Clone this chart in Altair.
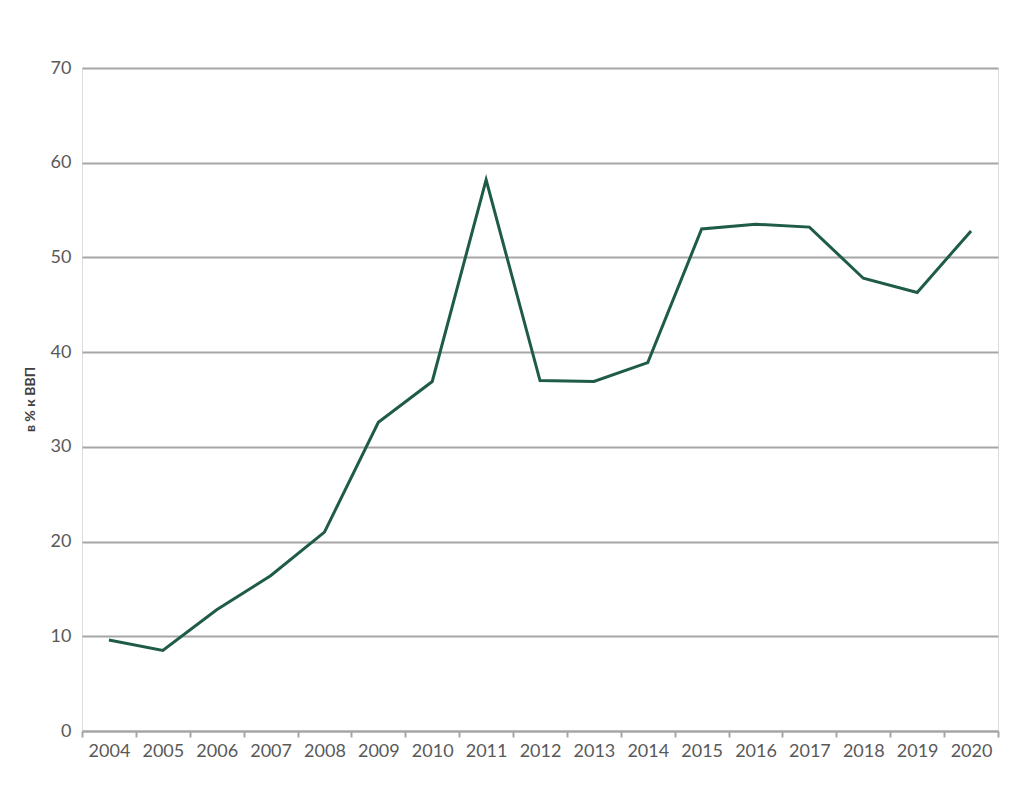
import altair as alt
import pandas as pd

years = ["2004", "2005", "2006", "2007", "2008", "2009", "2010", "2011", "2012",
         "2013", "2014", "2015", "2016", "2017", "2018", "2019", "2020"]
values = [9.6, 8.5, 12.8, 16.4, 21.0, 32.6, 36.9, 58.2, 37.0,
          36.9, 38.9, 53.0, 53.5, 53.2, 47.8, 46.3, 52.8]

df = pd.DataFrame({"year": years, "value": values})

chart = alt.Chart(df).mark_line(color="#1f5c45", strokeWidth=3).encode(
    x=alt.X("year:O", sort=years,
            scale=alt.Scale(paddingInner=0, paddingOuter=0),
            axis=alt.Axis(title=None, labelAngle=0, tickBand="extent",
                          ticks=True, tickSize=6, tickColor="#a6a6a6", tickWidth=2,
                          domainColor="#a6a6a6", domainWidth=2,
                          labelFont="Lato", labelFontSize=18, labelColor="#595959",
                          labelPadding=5, grid=False)),
    y=alt.Y("value:Q",
            scale=alt.Scale(domain=[0, 70], nice=False),
            axis=alt.Axis(values=[0, 10, 20, 30, 40, 50, 60, 70],
                          title="в % к ВВП", titleFont="Lato", titleFontSize=14,
                          titleFontWeight="bold", titleColor="#404040",
                          titleAngle=-90, titleX=-52, titleY=331,
                          titleAlign="center", titleBaseline="middle",
                          ticks=False, domain=False,
                          labelFont="Lato", labelFontSize=18, labelColor="#595959",
                          labelPadding=11,
                          grid=True, gridColor="#a6a6a6", gridWidth=2)),
).properties(
    width=916, height=663,
    autosize=alt.AutoSizeParams(type="none"),
    padding={"left": 82, "top": 68, "right": 32, "bottom": 61},
).configure_view(
    stroke="#bfbfbf", strokeWidth=2
).configure(background="white")

chart.save("out.html", embed_options={"renderer": "svg", "actions": False})
